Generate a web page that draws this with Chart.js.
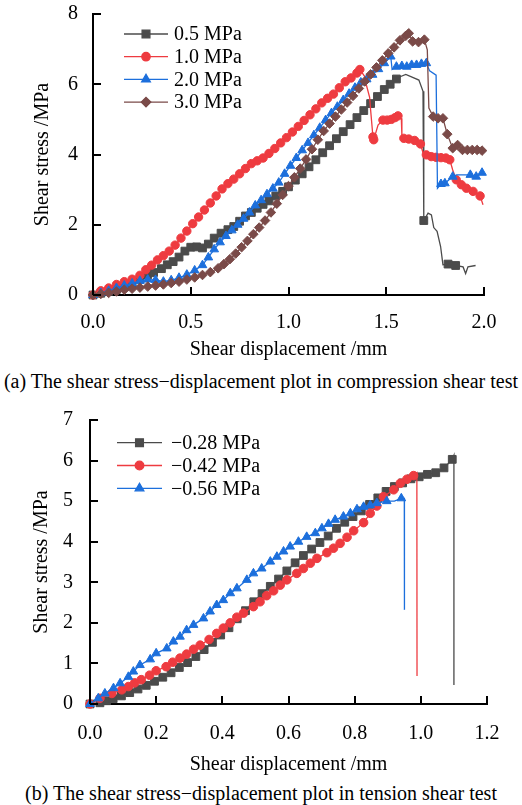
<!DOCTYPE html>
<html>
<head>
<meta charset="utf-8">
<script src="https://cdn.jsdelivr.net/npm/chart.js@4.4.1/dist/chart.umd.min.js"></script>
<style>
  html, body { margin: 0; padding: 0; background: #fff; }
  #page { position: relative; width: 522px; height: 805px; background: #fff; }
  canvas { position: absolute; left: 0; }
  .cap { position: absolute; left: 0; width: 522px; text-align: center; color: #000;
         font: 20px "Liberation Serif", "Times New Roman", serif; line-height: 24px; white-space: nowrap; }
</style>
</head>
<body>
<div id="page">
  <canvas id="chartA" width="522" height="365" style="top:0"></canvas>
  <div class="cap" style="top:369px">(a) The shear stress−displacement plot in compression shear test</div>
  <canvas id="chartB" width="522" height="380" style="top:400px"></canvas>
  <div class="cap" style="top:781px">(b) The shear stress−displacement plot in tension shear test</div>
</div>
<script>
const FONT = '"Liberation Serif", "Times New Roman", serif'

// ---------- (a) compression shear test ----------
const labelsA = ['0.5 MPa', '1.0 MPa', '2.0 MPa', '3.0 MPa']
const xTicksA = [0, 0.5, 1.0, 1.5, 2.0]
const yTicksA = [0, 2, 4, 6, 8]

// points with markers, then extra line-only vertices (after failure)
const a05Marks = [[0,0],[0.04,0.05],[0.08,0.1],[0.12,0.16],[0.16,0.23],[0.2,0.32],[0.24,0.45],[0.28,0.58],[0.31,0.64],[0.35,0.75],
  [0.38,0.86],[0.41,0.95],[0.44,1.08],[0.47,1.25],[0.5,1.36],[0.53,1.37],[0.56,1.34],[0.59,1.45],[0.62,1.62],[0.655,1.76],
  [0.69,1.86],[0.72,1.95],[0.75,2.1],[0.78,2.25],[0.81,2.35],[0.84,2.47],[0.87,2.58],[0.9,2.68],[0.935,2.82],[0.97,2.95],
  [1.0,3.08],[1.035,3.27],[1.07,3.45],[1.105,3.65],[1.14,3.85],[1.175,4.05],[1.21,4.25],[1.245,4.45],[1.28,4.65],[1.315,4.85],
  [1.35,5.05],[1.385,5.25],[1.42,5.45],[1.455,5.65],[1.49,5.85],[1.52,6.0],[1.552,6.15],[1.692,2.12],[1.816,0.88],[1.855,0.84]]
const a05Bends = [[1.574,6.22],[1.6,6.28],[1.667,6.12],[1.688,5.8],[1.714,2.33],[1.731,2.28],[1.743,1.92],[1.76,1.81],
  [1.778,1.38],[1.79,0.86],[1.893,0.8],[1.906,0.61],[1.918,0.8],[1.957,0.84]]

const a10Marks = [[0,0],[0.04,0.12],[0.08,0.2],[0.12,0.3],[0.16,0.38],[0.2,0.45],[0.24,0.56],[0.27,0.72],[0.3,0.85],[0.33,1.0],
  [0.36,1.12],[0.39,1.25],[0.42,1.42],[0.45,1.62],[0.48,1.82],[0.51,2.03],[0.54,2.22],[0.57,2.42],[0.6,2.62],[0.63,2.82],
  [0.66,3.02],[0.69,3.17],[0.72,3.3],[0.75,3.45],[0.78,3.6],[0.81,3.74],[0.84,3.82],[0.87,3.9],[0.9,4.03],[0.93,4.17],
  [0.96,4.33],[0.99,4.48],[1.02,4.64],[1.05,4.8],[1.08,4.97],[1.11,5.13],[1.14,5.3],[1.17,5.47],[1.2,5.6],[1.23,5.72],
  [1.26,5.9],[1.29,6.07],[1.32,6.18],[1.35,6.32],[1.365,6.42],[1.432,4.5],[1.436,4.42],[1.483,4.98],[1.505,4.98],[1.526,5.0],
  [1.545,5.05],[1.56,5.1],[1.59,4.46],[1.615,4.44],[1.645,4.4],[1.675,4.3],[1.705,3.99],[1.73,3.94],[1.755,3.92],[1.78,3.91],
  [1.805,3.9],[1.825,3.85],[1.858,3.28],[1.884,3.14],[1.91,3.04],[1.944,2.95],[1.98,2.82]]
const a10Bends = [[1.39,6.22],[1.395,6.05],[1.415,5.63],[1.42,5.27],[1.458,4.84],[1.577,5.03],[1.58,4.55],[1.688,4.05],
  [1.84,3.56],[1.995,2.57]]

const a20Marks = [[0,0],[0.04,0.06],[0.08,0.12],[0.12,0.2],[0.16,0.27],[0.2,0.33],[0.24,0.4],[0.28,0.44],[0.32,0.43],[0.36,0.38],
  [0.4,0.42],[0.44,0.49],[0.48,0.58],[0.52,0.7],[0.56,0.85],[0.59,1.07],[0.62,1.3],[0.65,1.5],[0.68,1.68],[0.71,1.84],
  [0.74,2.0],[0.77,2.17],[0.8,2.35],[0.83,2.55],[0.86,2.7],[0.89,2.87],[0.92,3.03],[0.95,3.2],[0.98,3.45],[1.01,3.68],
  [1.04,3.9],[1.07,4.12],[1.1,4.33],[1.13,4.55],[1.16,4.76],[1.19,4.98],[1.22,5.18],[1.25,5.36],[1.28,5.55],[1.31,5.73],
  [1.34,5.9],[1.37,6.05],[1.4,6.14],[1.43,6.27],[1.46,6.43],[1.49,6.6],[1.523,6.79],[1.552,6.5],[1.58,6.52],[1.605,6.5],
  [1.63,6.55],[1.655,6.55],[1.68,6.58],[1.705,6.6],[1.78,3.16],[1.8,3.18],[1.84,3.37],[1.93,3.42],[1.96,3.37],[1.99,3.48]]
const a20Bends = [[1.53,6.42],[1.722,6.38],[1.755,6.26],[1.762,3.04],[1.86,3.42]]

const a30Marks = [[0,0],[0.04,0.03],[0.08,0.06],[0.12,0.1],[0.16,0.15],[0.2,0.18],[0.24,0.21],[0.28,0.24],[0.32,0.27],[0.36,0.3],
  [0.4,0.34],[0.44,0.38],[0.48,0.44],[0.52,0.5],[0.56,0.57],[0.6,0.65],[0.64,0.76],[0.67,0.88],[0.7,1.02],[0.73,1.18],
  [0.76,1.36],[0.79,1.54],[0.82,1.73],[0.85,1.92],[0.88,2.12],[0.91,2.35],[0.94,2.6],[0.97,2.85],[1.0,3.1],[1.03,3.35],
  [1.06,3.6],[1.09,3.86],[1.12,4.15],[1.15,4.42],[1.18,4.67],[1.21,4.88],[1.24,5.08],[1.27,5.28],[1.3,5.48],[1.33,5.67],
  [1.36,5.88],[1.39,6.08],[1.42,6.28],[1.45,6.48],[1.48,6.68],[1.51,6.88],[1.54,7.05],[1.57,7.25],[1.6,7.38],[1.615,7.45],
  [1.635,7.22],[1.665,7.2],[1.695,7.27],[1.74,5.08],[1.765,5.03],[1.79,5.03],[1.812,4.58],[1.84,4.18],[1.865,4.27],[1.89,4.13],
  [1.915,4.13],[1.94,4.13],[1.965,4.13],[1.99,4.11]]
const a30Bends = [[1.71,6.98],[1.718,5.32]]

// ---------- (b) tension shear test ----------
const labelsB = ['−0.28 MPa', '−0.42 MPa', '−0.56 MPa']
const xTicksB = [0, 0.2, 0.4, 0.6, 0.8, 1.0, 1.2]
const yTicksB = [0, 1, 2, 3, 4, 5, 6, 7]

const b28Marks = [[0,0],[0.03,0.03],[0.05,0.08],[0.07,0.13],[0.095,0.2],[0.12,0.28],[0.145,0.37],[0.17,0.46],[0.195,0.56],[0.22,0.66],
  [0.245,0.77],[0.27,0.9],[0.295,1.02],[0.32,1.17],[0.345,1.34],[0.37,1.52],[0.395,1.7],[0.42,1.88],[0.445,2.1],[0.47,2.3],
  [0.495,2.52],[0.52,2.72],[0.545,2.9],[0.57,3.08],[0.595,3.28],[0.62,3.48],[0.645,3.66],[0.67,3.82],[0.695,3.98],[0.72,4.14],
  [0.745,4.33],[0.77,4.48],[0.795,4.62],[0.82,4.76],[0.845,4.92],[0.87,5.08],[0.895,5.24],[0.92,5.36],[0.945,5.45],[0.97,5.55],
  [0.995,5.6],[1.02,5.66],[1.045,5.7],[1.07,5.82],[1.095,6.03]]
const b28Bends = [[1.1,6.13],[1.1,0.47]]

const b42Marks = [[0,0],[0.03,0.14],[0.066,0.26],[0.096,0.35],[0.116,0.43],[0.135,0.52],[0.155,0.6],[0.18,0.71],[0.2,0.82],[0.23,0.92],
  [0.25,1.03],[0.272,1.13],[0.292,1.23],[0.313,1.35],[0.333,1.45],[0.36,1.59],[0.383,1.74],[0.403,1.87],[0.424,2.0],[0.444,2.14],
  [0.464,2.24],[0.494,2.4],[0.514,2.52],[0.534,2.67],[0.555,2.79],[0.575,2.93],[0.595,3.06],[0.625,3.22],[0.645,3.34],[0.666,3.47],
  [0.686,3.59],[0.716,3.73],[0.736,3.84],[0.756,3.96],[0.777,4.11],[0.797,4.27],[0.827,4.47],[0.847,4.7],[0.867,4.88],[0.887,5.11],
  [0.918,5.28],[0.938,5.44],[0.958,5.54],[0.978,5.63]]
const b42Bends = [[0.988,5.7],[0.9885,0.69]]

const b56Marks = [[0,0],[0.025,0.14],[0.045,0.26],[0.071,0.39],[0.091,0.51],[0.116,0.67],[0.131,0.8],[0.151,0.96],[0.182,1.1],[0.2,1.25],
  [0.232,1.37],[0.252,1.54],[0.272,1.66],[0.292,1.82],[0.313,1.95],[0.343,2.11],[0.363,2.28],[0.383,2.44],[0.403,2.56],[0.424,2.73],
  [0.444,2.85],[0.474,3.06],[0.494,3.22],[0.519,3.34],[0.545,3.51],[0.565,3.63],[0.585,3.76],[0.605,3.88],[0.63,4.0],[0.655,4.12],
  [0.681,4.21],[0.701,4.33],[0.721,4.44],[0.741,4.54],[0.766,4.62],[0.787,4.7],[0.807,4.8],[0.827,4.86],[0.847,4.9],[0.867,4.95],
  [0.897,5.0],[0.941,5.07]]
const b56Bends = [[0.92,5.0],[0.95,5.07],[0.9505,2.32]]

// styles
const GRAY = '#4b4b4b', RED = '#ee3b40', BLUE = '#1c6fdc', BROWN = '#7a4a48'

const seriesA = [
  { label: labelsA[0], marks: a05Marks, bends: a05Bends, color: GRAY, style: 'rect', r: 5.5 },
  { label: labelsA[1], marks: a10Marks, bends: a10Bends, color: RED, style: 'circle', r: 4.2 },
  { label: labelsA[2], marks: a20Marks, bends: a20Bends, color: BLUE, style: 'triangle', r: 5 },
  { label: labelsA[3], marks: a30Marks, bends: a30Bends, color: BROWN, style: 'rectRot', r: 4.8 }
]
const seriesB = [
  { label: labelsB[0], marks: b28Marks, bends: b28Bends, color: GRAY, style: 'rect', r: 5.5 },
  { label: labelsB[1], marks: b42Marks, bends: b42Bends, color: RED, style: 'circle', r: 4.3 },
  { label: labelsB[2], marks: b56Marks, bends: b56Bends, color: BLUE, style: 'triangle', r: 5 }
]

function toXY(list) { return list.map(p => ({ x: p[0], y: p[1] })) }

function buildDatasets(series) {
  let out = []
  series.forEach((s, i) => {
    const path = s.marks.concat(s.bends).sort((p, q) => p[0] - q[0])
    out.push({ data: toXY(path), showLine: true, borderColor: s.color, borderWidth: 1.3,
      pointRadius: 0, order: 100 - 2 * i, clip: false })
    out.push({ data: toXY(s.marks), showLine: false, pointStyle: s.style, pointRadius: s.r,
      backgroundColor: s.color, borderColor: s.color, borderWidth: 1, order: 99 - 2 * i, clip: false })
  })
  return out
}

// short ticks pointing into the plot
const innerTicks = {
  id: 'innerTicks',
  afterDraw(chart) {
    const { ctx, chartArea, scales } = chart
    ctx.save()
    ctx.strokeStyle = '#000'
    ctx.lineWidth = 2
    scales.x.ticks.forEach(t => {
      const px = Math.round(scales.x.getPixelForValue(t.value))
      ctx.beginPath(); ctx.moveTo(px, chartArea.bottom); ctx.lineTo(px, chartArea.bottom - 8); ctx.stroke()
    })
    scales.y.ticks.forEach(t => {
      const py = Math.round(scales.y.getPixelForValue(t.value))
      ctx.beginPath(); ctx.moveTo(chartArea.left, py); ctx.lineTo(chartArea.left + 8, py); ctx.stroke()
    })
    ctx.restore()
  }
}

// legend with line + marker sample, inside the plot
const lineLegend = {
  id: 'lineLegend',
  afterDraw(chart, args, opts) {
    const { ctx, chartArea } = chart
    ctx.save()
    ctx.font = '20px ' + FONT
    ctx.textBaseline = 'middle'
    opts.series.forEach((s, i) => {
      const x = chartArea.left + opts.left
      const y = chartArea.top + opts.top + i * opts.gap
      ctx.strokeStyle = s.color
      ctx.lineWidth = 1.3
      ctx.beginPath(); ctx.moveTo(x, y); ctx.lineTo(x + opts.len, y); ctx.stroke()
      ctx.fillStyle = s.color
      Chart.helpers.drawPoint(ctx, { pointStyle: s.style, radius: s.r, rotation: 0, borderWidth: 1 }, x + opts.len / 2, y)
      ctx.fillStyle = '#000'
      ctx.fillText(s.label, x + opts.len + opts.textGap, y + 1)
    })
    ctx.restore()
  }
}

function makeChart(id, series, xTicks, yTicks, box, leg) {
  const tickFont = { family: FONT, size: 20 }
  return new Chart(document.getElementById(id), {
    type: 'scatter',
    data: { datasets: buildDatasets(series) },
    plugins: [innerTicks, lineLegend],
    options: {
      responsive: false,
      animation: false,
      devicePixelRatio: 1,
      events: [],
      layout: { padding: { left: 0, top: box.top, right: box.right, bottom: 0 } },
      plugins: { legend: { display: false }, tooltip: { enabled: false }, lineLegend: leg },
      scales: {
        x: {
          type: 'linear', min: xTicks[0], max: xTicks[xTicks.length - 1],
          afterBuildTicks: s => { s.ticks = xTicks.map(v => ({ value: v })) },
          afterFit: s => { s.height = box.xh; s.paddingLeft = 0; s.paddingRight = 0 },
          grid: { display: false, drawTicks: false },
          border: { display: true, color: '#000', width: 2 },
          ticks: { color: '#000', font: tickFont, padding: box.xpad, maxRotation: 0,
            callback: v => Number(v).toFixed(1) },
          title: { display: true, text: 'Shear displacement /mm', color: '#000', font: tickFont,
            padding: { top: 0, bottom: box.xtb } }
        },
        y: {
          type: 'linear', min: yTicks[0], max: yTicks[yTicks.length - 1],
          afterBuildTicks: s => { s.ticks = yTicks.map(v => ({ value: v })) },
          afterFit: s => { s.width = box.yw; s.paddingTop = 0; s.paddingBottom = 0 },
          grid: { display: false, drawTicks: false },
          border: { display: true, color: '#000', width: 2 },
          ticks: { color: '#000', font: tickFont, padding: box.ypad, callback: v => String(v) },
          title: { display: true, text: 'Shear stress /MPa', color: '#000', font: tickFont,
            padding: { top: box.ytt, bottom: 0 } }
        }
      }
    }
  })
}

makeChart('chartA', seriesA, xTicksA, yTicksA,
  { top: 14, right: 38, xh: 70, yw: 93, xpad: 16, xtb: 3, ypad: 15, ytt: 31 },
  { series: seriesA, left: 31, top: 20, gap: 22.7, len: 44, textGap: 6 })

makeChart('chartB', seriesB, xTicksB, yTicksB,
  { top: 20, right: 35, xh: 76, yw: 90, xpad: 18, xtb: 3, ypad: 17, ytt: 30 },
  { series: seriesB, left: 27, top: 22.7, gap: 22.8, len: 45, textGap: 9 })
</script>
</body>
</html>
